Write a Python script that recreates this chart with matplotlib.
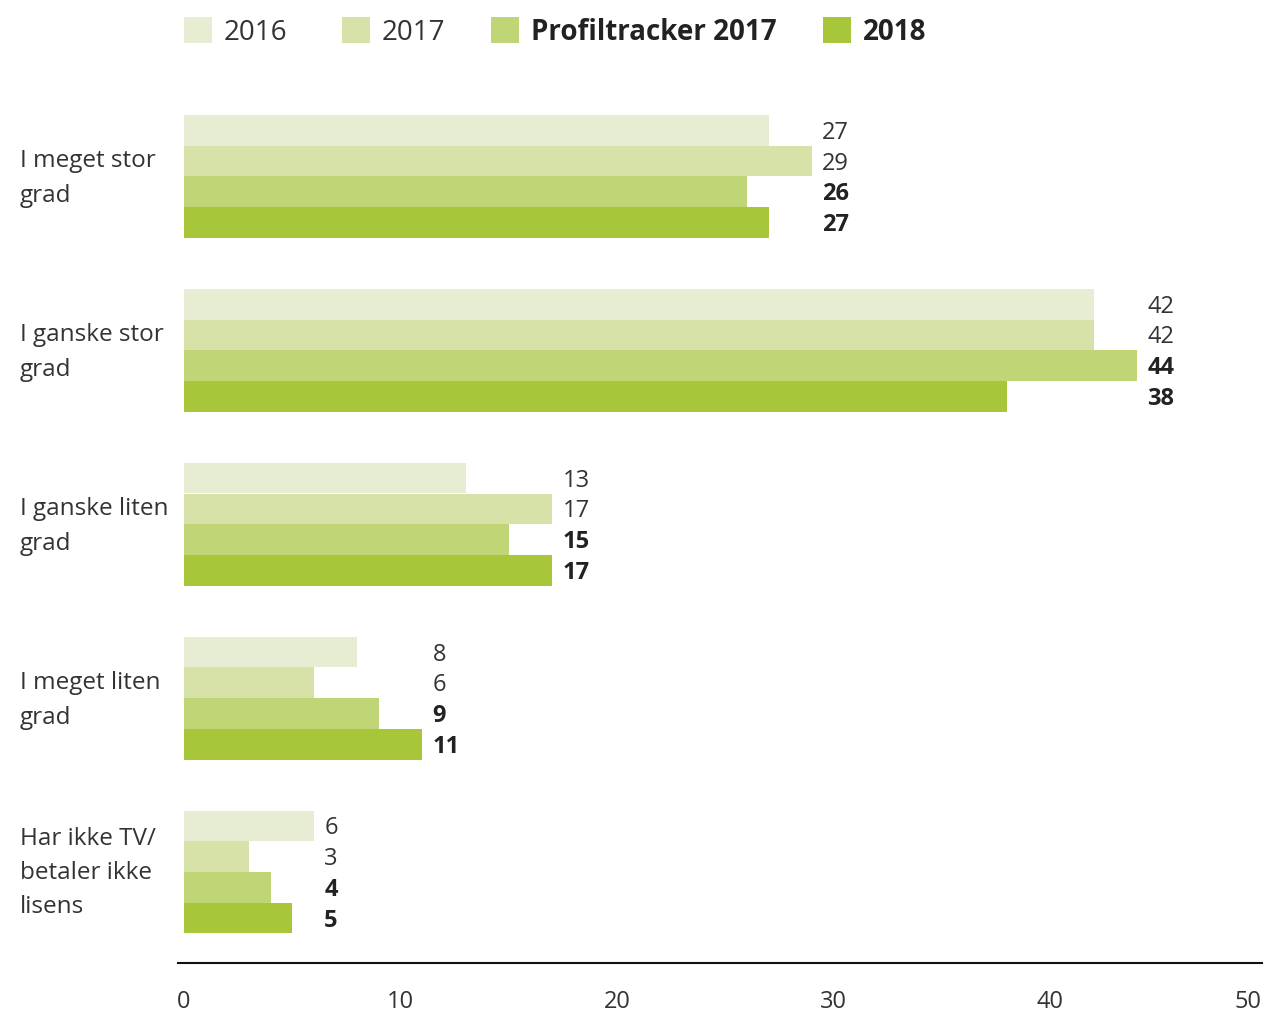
import matplotlib
matplotlib.use("Agg")
import matplotlib.pyplot as plt
from matplotlib.patches import Rectangle
import matplotlib.transforms as mtransforms

categories = ["I meget stor\ngrad", "I ganske stor\ngrad", "I ganske liten\ngrad",
              "I meget liten\ngrad", "Har ikke TV/\nbetaler ikke\nlisens"]
series_names = ["2016", "2017", "Profiltracker 2017", "2018"]
values_2016 = [27, 42, 13, 8, 6]
values_2017 = [29, 42, 17, 6, 3]
values_prof = [26, 44, 15, 9, 4]
values_2018 = [27, 38, 17, 11, 5]
tick_values = [0, 10, 20, 30, 40, 50]

series = [values_2016, values_2017, values_prof, values_2018]
colors = ["#e6edd2", "#d6e2a8", "#c0d676", "#a8c63a"]
bold = [False, False, True, True]

W, H = 1268, 1013
fig = plt.figure(figsize=(W / 100, H / 100), dpi=100)

FONT = "Open Sans"
TXT = "#333333"

# axes placement (pixels)
ax_left, ax_right = 178, 1262
ax_top, ax_bottom = 100, 963
ax = fig.add_axes([ax_left / W, 1 - ax_bottom / H, (ax_right - ax_left) / W, (ax_bottom - ax_top) / H])

px_per_unit = 21.66
bar_px = 30.7
group_px = 173.9
x0_px = 184
ax.set_xlim((ax_left - x0_px) / px_per_unit, (ax_right - x0_px) / px_per_unit)
ax.set_ylim((ax_bottom - ax_top) / bar_px, 0)

n = len(series)
for g, cat in enumerate(categories):
    base = (115 - ax_top + g * group_px) / bar_px
    gmax = max(s[g] for s in series)
    for b in range(n):
        yc = base + b + 0.5
        ax.barh(yc, series[b][g], height=1.0, color=colors[b], left=0, linewidth=0)
        ax.text(gmax + 0.47, yc + 0.08, str(series[b][g]), va="center", ha="left",
                fontsize=17, family=FONT, color="#222222" if bold[b] else TXT,
                fontweight="bold" if bold[b] else "normal")
    nlines = cat.count("\n") + 1
    ax.text(-0.277 - 158 / px_per_unit, base + n / 2 + (0.08 if nlines == 2 else 0.03), cat,
            va="center", ha="left", fontsize=17.5, family=FONT, color=TXT,
            linespacing=1.6 if nlines == 2 else 1.55)

for s in ["top", "right", "left"]:
    ax.spines[s].set_visible(False)
ax.spines["bottom"].set_linewidth(1.5)
ax.spines["bottom"].set_color("#111111")
ax.set_yticks([])
ax.set_xticks([])

# x tick labels placed on the data scale
trans = mtransforms.blended_transform_factory(ax.transData, fig.transFigure)
for t in tick_values:
    xt = min(t, 49.75)
    ax.text(xt, 1 - 1002 / H, str(t), transform=trans, ha="right" if t == 50 else "center",
            va="center", family=FONT, fontsize=17, color=TXT)

# legend
leg_x = [184, 342, 491, 823]
for i, name in enumerate(series_names):
    fig.patches.append(Rectangle((leg_x[i] / W, 1 - 43 / H), 28 / W, 26 / H,
                                 transform=fig.transFigure, color=colors[i], linewidth=0))
    fig.text((leg_x[i] + 40) / W, 1 - 33 / H, name, ha="left", va="center",
             family=FONT, fontsize=20, color="#222222" if bold[i] else TXT,
             fontweight="bold" if bold[i] else "normal")

fig.savefig("out.png", dpi=100, facecolor="white")
